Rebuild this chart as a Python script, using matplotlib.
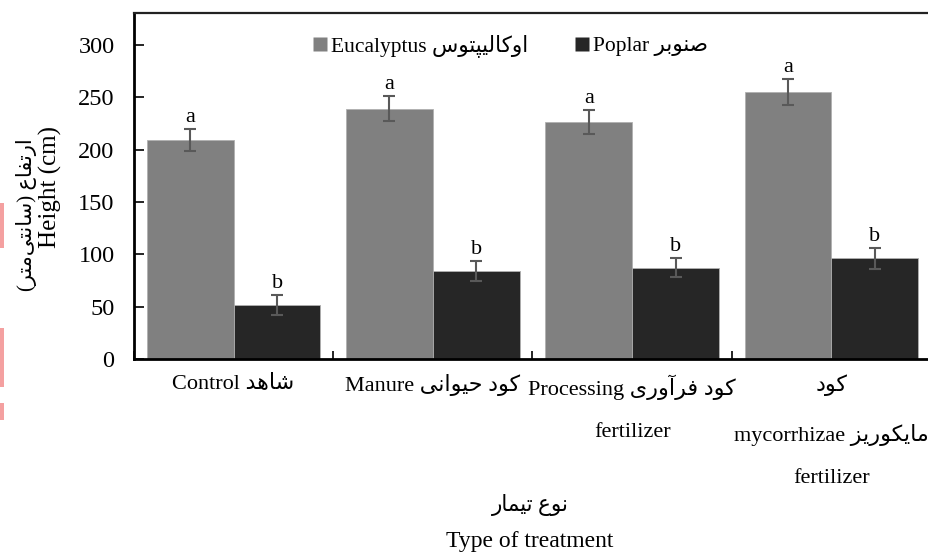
# grouped bar chart: height of eucalyptus and poplar seedlings per fertilizer treatment
# (bilingual Persian / English labels)

from itertools import zip_longest
import numpy as np
import matplotlib.pyplot as plt
from matplotlib.lines import Line2D
from matplotlib.patches import Rectangle

# data
CAT_EN = ["Control", "Manure", "Processing\nfertilizer", "\nmycorrhizae\nfertilizer"]
CAT_FA = ["شاهد", "کود حیوانی", "کود فرآوری", "کود\nمایکوریز\n"]
eucalyptus = [209, 239, 226, 255]
eucalyptus_err = [10.5, 12, 11.5, 12.5]
poplar = [52, 84, 87, 96]
poplar_err = [9.5, 9.5, 9, 10]
eucalyptus_letters = ["a", "a", "a", "a"]
poplar_letters = ["b", "b", "b", "b"]
yticks = [0, 50, 100, 150, 200, 250, 300]

# arabic presentation forms: (isolated, final, initial, medial)
FORMS = {
    'ا': ('\uFE8D', '\uFE8E', None, None),
    'آ': ('\uFE81', '\uFE82', None, None),
    'ب': ('\uFE8F', '\uFE90', '\uFE91', '\uFE92'),
    'پ': ('\uFB56', '\uFB57', '\uFB58', '\uFB59'),
    'ت': ('\uFE95', '\uFE96', '\uFE97', '\uFE98'),
    'ح': ('\uFEA1', '\uFEA2', '\uFEA3', '\uFEA4'),
    'د': ('\uFEA9', '\uFEAA', None, None),
    'ر': ('\uFEAD', '\uFEAE', None, None),
    'ز': ('\uFEAF', '\uFEB0', None, None),
    'س': ('\uFEB1', '\uFEB2', '\uFEB3', '\uFEB4'),
    'ش': ('\uFEB5', '\uFEB6', '\uFEB7', '\uFEB8'),
    'ص': ('\uFEB9', '\uFEBA', '\uFEBB', '\uFEBC'),
    'ع': ('\uFEC9', '\uFECA', '\uFECB', '\uFECC'),
    'ف': ('\uFED1', '\uFED2', '\uFED3', '\uFED4'),
    'ک': ('\uFB8E', '\uFB8F', '\uFB90', '\uFB91'),
    'ل': ('\uFEDD', '\uFEDE', '\uFEDF', '\uFEE0'),
    'م': ('\uFEE1', '\uFEE2', '\uFEE3', '\uFEE4'),
    'ن': ('\uFEE5', '\uFEE6', '\uFEE7', '\uFEE8'),
    'ه': ('\uFEE9', '\uFEEA', '\uFEEB', '\uFEEC'),
    'و': ('\uFEED', '\uFEEE', None, None),
    'ی': ('\uFBFC', '\uFBFD', '\uFBFE', '\uFBFF'),
}


def rtl_line(text):
    # shape letters, then put them in visual (left to right) order
    out = []
    for i, c in enumerate(text):
        if c not in FORMS:
            out.append(c)
            continue
        f = FORMS[c]
        prev = text[i - 1] if i > 0 else None
        nxt = text[i + 1] if i + 1 < len(text) else None
        join_prev = prev in FORMS and FORMS[prev][2] is not None
        join_next = f[2] is not None and nxt in FORMS
        if join_prev and join_next:
            out.append(f[3])
        elif join_prev:
            out.append(f[1])
        elif join_next:
            out.append(f[2])
        else:
            out.append(f[0])
    s = ''.join(out).replace('\u200c', '')[::-1]
    return s.translate(str.maketrans('()', ')('))


def rtl(text):
    return "\n".join(rtl_line(l) for l in text.split("\n"))


def bilingual(en, fa):
    lines = []
    for e, f in zip_longest(en.split("\n"), fa.split("\n"), fillvalue=""):
        parts = [p for p in (e, rtl_line(f)) if p]
        lines.append(" ".join(parts))
    return "\n".join(lines)


FONT = ['Liberation Serif', 'DejaVu Sans']
plt.rcParams['font.family'] = FONT
plt.rcParams['font.size'] = 16

EUC_COLOR = '#808080'
POP_COLOR = '#262626'
ERR_COLOR = '#595959'

fig = plt.figure(figsize=(9.29, 5.56), dpi=100)
ax = fig.add_axes([134 / 929, 1 - 359 / 556, 797 / 929, 346 / 556])

x = np.arange(len(CAT_EN))
w = 0.436
ax.bar(x - w / 2, eucalyptus, w, color=EUC_COLOR, edgecolor='#b0b0b0', linewidth=0.6)
ax.bar(x + w / 2, poplar, w, color=POP_COLOR, edgecolor='#b0b0b0', linewidth=0.6)
ax.errorbar(x - w / 2, eucalyptus, yerr=eucalyptus_err, fmt='none', ecolor=ERR_COLOR,
            elinewidth=1.5, capsize=4.5, capthick=1.5)
ax.errorbar(x + w / 2, poplar, yerr=poplar_err, fmt='none', ecolor=ERR_COLOR,
            elinewidth=1.5, capsize=4.5, capthick=1.5)

for i in range(len(x)):
    ax.text(x[i] - w / 2, eucalyptus[i] + eucalyptus_err[i] + 2, eucalyptus_letters[i],
            ha='center', va='bottom', fontsize=16)
    ax.text(x[i] + w / 2, poplar[i] + poplar_err[i] + 2, poplar_letters[i],
            ha='center', va='bottom', fontsize=16)

ax.set_xlim(-0.5, 3.5)
ax.set_ylim(0, 330.5)
ax.set_yticks(yticks)
ax.tick_params(axis='y', direction='in', length=7, width=1.2, pad=14, labelsize=17.5)

ax.set_xticks(x)
ax.set_xticklabels([bilingual(e, f) for e, f in zip(CAT_EN, CAT_FA)], fontsize=16)
ax.set_xticks([-0.5, 0.5, 1.5, 2.5, 3.5], minor=True)
ax.tick_params(axis='x', which='major', length=0, pad=11)
ax.tick_params(axis='x', which='minor', direction='in', length=6, width=1.2)
for lab in ax.get_xticklabels():
    lab.set_linespacing(2.65)
    lab.set_verticalalignment('top')

for side in ('left', 'bottom'):
    ax.spines[side].set_linewidth(2)
ax.spines['top'].set_linewidth(1.6)
ax.spines['top'].set_color('#222222')
ax.spines['right'].set_linewidth(1.6)

# legend
handles = [Line2D([], [], color='none', marker='s', markersize=10, markerfacecolor=EUC_COLOR,
                  markeredgecolor='none', label=bilingual("Eucalyptus", "اوکالیپتوس")),
           Line2D([], [], color='none', marker='s', markersize=10, markerfacecolor=POP_COLOR,
                  markeredgecolor='none', label=bilingual("Poplar", "صنوبر"))]
ax.legend(handles=handles, ncol=2, frameon=False, loc='center',
          bbox_to_anchor=(0.47, 0.905), handletextpad=0.0, columnspacing=2.0,
          handlelength=1.0, fontsize=15.5)

# axis titles
fig.text(50 / 929, 1 - 187 / 556, "Height (cm)", rotation=90, ha='center', va='center',
         fontsize=18)
fig.text(27 / 929, 1 - 215 / 556, rtl("ارتفاع (سانتی\u200cمتر)"), rotation=90,
         ha='center', va='center', fontsize=15)
fig.text(530 / 929, 1 - 505 / 556, rtl("نوع تیمار"), ha='center', va='center', fontsize=15.5)
fig.text(530 / 929, 1 - 541 / 556, "Type of treatment", ha='center', va='center', fontsize=17)

# pinkish marks at the left edge of the reference
for y0, y1 in [(203, 248), (328, 387), (403, 420)]:
    fig.patches.append(Rectangle((0, 1 - y1 / 556), 4 / 929, (y1 - y0) / 556,
                                 transform=fig.transFigure, facecolor='#f4a0a0',
                                 edgecolor='none'))

plt.savefig("out.png", dpi=100)
